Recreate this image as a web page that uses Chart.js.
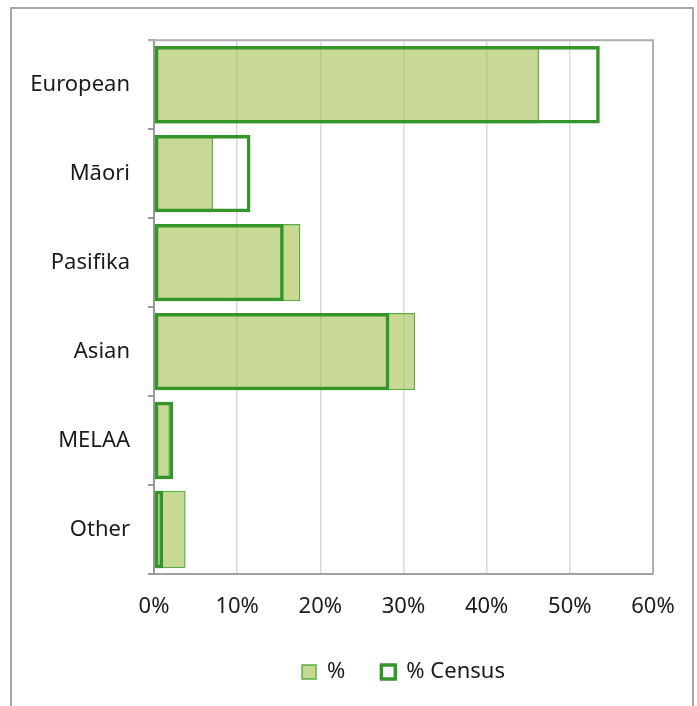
<!DOCTYPE html>
<html>
<head>
<meta charset="utf-8">
<script src="https://cdn.jsdelivr.net/npm/chart.js@4/dist/chart.umd.min.js"></script>
<style>
  html, body { margin: 0; padding: 0; background: #fff; overflow: hidden; }
  #frame { position: absolute; left: 10px; top: 7px; width: 680px; height: 720px;
           border: 2px solid #a6a6a6; border-bottom: none; }
  #c { display: block; }
</style>
</head>
<body>
<div id="frame"><canvas id="c" width="680" height="697" style="width:680px;height:697px"></canvas></div>
<script>
const categories = ['European', 'Māori', 'Pasifika', 'Asian', 'MELAA', 'Other'];
const pctValues = [46.3, 7.1, 17.6, 31.4, 1.9, 3.8];
const censusValues = [53.6, 11.6, 15.6, 28.3, 2.3, 1.1];
const seriesNames = ['%', '% Census'];
const xTicks = [0, 10, 20, 30, 40, 50, 60];

const FONT = '"Noto Sans", "DejaVu Sans", sans-serif';

const plotFrame = {
  id: 'plotFrame',
  beforeDatasetsDraw(chart) {
    const a = chart.chartArea, ctx = chart.ctx;
    ctx.save();
    ctx.strokeStyle = '#b0b0b0';
    ctx.lineWidth = 2;
    ctx.beginPath();
    ctx.moveTo(a.left - 6, a.top);
    ctx.lineTo(a.right, a.top);
    ctx.lineTo(a.right, a.bottom);
    ctx.stroke();
    ctx.restore();
  }
};

new Chart(document.getElementById('c'), {
  type: 'bar',
  data: {
    labels: categories,
    datasets: [
      {
        label: seriesNames[0],
        data: pctValues,
        backgroundColor: 'rgba(163,192,80,0.6)',
        borderColor: '#5fae45',
        borderWidth: 1.5,
        borderSkipped: false,
        grouped: false,
        order: 2,
        barPercentage: 0.87,
        categoryPercentage: 1
      },
      {
        label: seriesNames[1],
        data: censusValues,
        backgroundColor: 'rgba(255,255,255,0)',
        borderColor: '#35952b',
        borderWidth: 3.5,
        borderSkipped: false,
        grouped: false,
        order: 1,
        barPercentage: 0.87,
        categoryPercentage: 1
      }
    ]
  },
  options: {
    indexAxis: 'y',
    responsive: false,
    animation: false,
    layout: { padding: { top: 31, right: 39, bottom: 13, left: 0 } },
    scales: {
      x: {
        min: 0, max: 60,
        afterBuildTicks(scale) { scale.ticks = xTicks.map(v => ({ value: v })); },
        ticks: {
          callback: v => v + '%',
          color: '#1a1a1a',
          font: { family: FONT, size: 22 },
          padding: 20,
          maxRotation: 0
        },
        grid: { color: '#d9d9d9', lineWidth: 1.5, drawTicks: false },
        border: { color: '#a0a0a0', width: 2 },
        afterFit(scale) { scale.height = 51; scale.paddingRight = 0; scale.paddingLeft = 0; }
      },
      y: {
        ticks: {
          color: '#1a1a1a',
          font: { family: FONT, size: 22 },
          padding: 18
        },
        grid: { display: true, drawOnChartArea: false, drawTicks: true, tickLength: 6, offset: true, color: '#999', lineWidth: 2 },
        border: { color: '#999', width: 2 },
        afterFit(scale) { scale.width = 142; }
      }
    },
    plugins: {
      legend: {
        position: 'bottom',
        fullSize: false,
        labels: {
          boxWidth: 14,
          boxHeight: 14,
          padding: 36,
          color: '#1a1a1a',
          font: { family: FONT, size: 22 },
          sort: (a, b) => a.datasetIndex - b.datasetIndex
        }
      },
      tooltip: { enabled: false }
    }
  },
  plugins: [plotFrame]
});
</script>
</body>
</html>
